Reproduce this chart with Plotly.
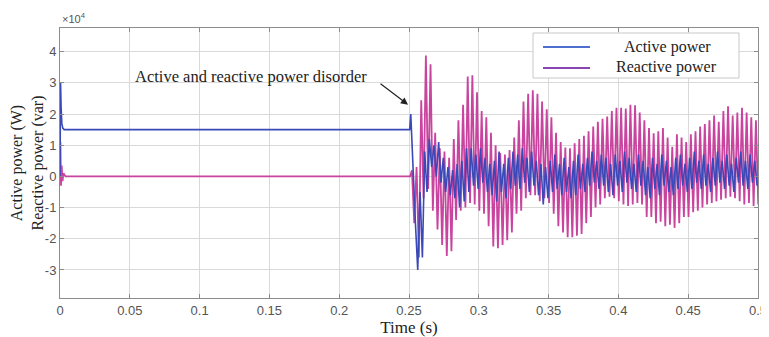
import plotly.graph_objects as go

# values in units of 1e4
# start-up transient (time s, value)
act_start_t = [0.0, 0.0004, 0.0008, 0.0013, 0.002, 0.003, 0.2505]
act_start_v = [0.0, 3.0, 2.2, 1.7, 1.55, 1.5, 1.5]
rea_start_t = [0.0, 0.0003, 0.0007, 0.0012, 0.0018, 0.0025, 0.004, 0.2508]
rea_start_v = [0.0, 1.1, -0.3, 0.35, -0.15, 0.1, 0.0, 0.0]

# disturbed period: one peak and one trough per cycle (75 cycles from t=0.2521)
cycle_start = 0.2521
cycle_len = 0.00333
rea_peak = [0.2, 0.3, 2.44, 3.88, 3.6, 1.4, 0.9, 0.8, 0.6, 1.2,
            1.8, 2.3, 3.2, 3.24, 2.7, 2.1, 1.9, 1.4, 1.0, 0.75,
            0.7, 0.85, 1.25, 1.8, 2.4, 2.65, 2.76, 2.65, 2.4, 2.15,
            1.9, 1.4, 1.1, 0.93, 0.9, 1.06, 1.2, 1.3, 1.45, 1.6,
            1.75, 1.85, 1.92, 2.1, 2.2, 2.2, 2.18, 2.3, 2.28, 2.05,
            1.8, 1.55, 1.38, 1.45, 1.55, 1.25, 0.95, 1.35, 1.25, 1.1,
            1.35, 1.45, 1.6, 1.68, 1.8, 1.95, 1.75, 2.1, 2.25, 1.95,
            2.05, 2.2, 2.05, 1.9, 1.8]
rea_trough = [-1.5, -2.6, -0.7, -0.4, -1.1, -1.7, -2.2, -2.55, -2.4, -1.4,
              -1.1, -1.0, -0.85, -0.9, -1.1, -1.2, -1.6, -2.25, -2.3, -2.2,
              -2.05, -1.8, -1.2, -1.1, -0.7, -0.6, -0.6, -0.8, -0.7, -0.85,
              -1.2, -1.6, -1.8, -1.95, -1.95, -1.9, -1.85, -1.5, -1.3, -1.0,
              -0.9, -0.7, -0.65, -0.7, -0.8, -0.9, -0.95, -0.9, -0.85, -0.9,
              -1.3, -1.3, -1.5, -1.45, -1.6, -1.55, -1.65, -1.5, -1.3, -1.3,
              -1.15, -1.1, -1.0, -0.9, -0.85, -0.8, -0.75, -0.7, -0.65, -0.7,
              -0.8, -0.9, -0.85, -0.95, -0.9]
act_hi = [2.0, -1.5, -0.5, 0.8, 1.2, 1.0, 1.1, 0.6, 0.3, 0.2,
          0.4, 0.5, 0.9, 0.9, 0.7, 0.9, 0.6, 0.4, 0.5, 0.8,
          0.4, 0.6, 0.8, 0.7, 0.9, 0.6, 0.8, 0.5, 0.4, 0.3,
          0.5, 0.7, 0.4, 0.6, 0.3, 0.5, 0.7, 0.4, 0.6, 0.8,
          0.5, 0.7, 0.6, 0.4, 0.7, 0.5, 0.8, 0.6, 0.4, 0.7,
          0.5, 0.3, 0.6, 0.4, 0.7, 0.5, 0.3, 0.6, 0.7, 0.4,
          0.6, 0.8, 0.5, 0.7, 0.4, 0.6, 0.8, 0.5, 0.7, 0.4,
          0.6, 0.8, 0.5, 0.7, 0.5]
act_lo = [0.0, -3.0, -2.6, -0.5, 0.3, 0.0, -0.2, -0.5, -0.6, -0.7,
          -1.0, -0.8, -0.5, -0.3, -0.4, -0.2, -0.5, -0.6, -0.8, -0.5,
          -0.7, -0.4, -0.3, -0.4, -0.2, -0.5, -0.3, -0.6, -0.9, -0.7,
          -0.5, -0.4, -0.6, -0.5, -0.7, -0.6, -0.4, -0.5, -0.3, -0.2,
          -0.4, -0.3, -0.5, -0.6, -0.3, -0.5, -0.2, -0.4, -0.5, -0.3,
          -0.6, -0.7, -0.4, -0.6, -0.3, -0.5, -0.6, -0.4, -0.3, -0.5,
          -0.4, -0.2, -0.4, -0.3, -0.5, -0.3, -0.2, -0.4, -0.3, -0.5,
          -0.2, -0.3, -0.4, -0.2, -0.3]

x_ticks = [0, 0.05, 0.1, 0.15, 0.2, 0.25, 0.3, 0.35, 0.4, 0.45, 0.5]
x_labels = ["0", "0.05", "0.1", "0.15", "0.2", "0.25", "0.3", "0.35", "0.4", "0.45", "0.5"]
y_ticks = [-3, -2, -1, 0, 1, 2, 3, 4]
y_labels = ["-3", "-2", "-1", "0", "1", "2", "3", "4"]
legend_names = ["Active power", "Reactive power"]

# assemble series
rea_t = list(rea_start_t)
rea_v = list(rea_start_v)
act_t = list(act_start_t)
act_v = list(act_start_v)
for k in range(len(rea_peak)):
    t0 = cycle_start + k * cycle_len
    rea_t += [t0, t0 + cycle_len / 2]
    rea_v += [rea_peak[k], rea_trough[k]]
    act_t += [t0 - cycle_len * 0.25, t0 + cycle_len * 0.25]
    act_v += [act_hi[k], act_lo[k]]

PINK = "#c8449f"
BLUE = "#3b48b8"
LEG_BLUE = "#4f6fd0"
LEG_PURPLE = "#8a45b5"

fig = go.Figure()
fig.add_trace(go.Scatter(x=rea_t, y=rea_v, mode="lines", name=legend_names[1],
                         line=dict(color=PINK, width=1.8), showlegend=False))
fig.add_trace(go.Scatter(x=act_t, y=act_v, mode="lines", name=legend_names[0],
                         line=dict(color=BLUE, width=1.6), showlegend=False))

serif = "Liberation Serif"
sans = "Liberation Sans"

# page has an 8px body margin; figure is placed at (8, 8)
OFF = 8
W, H = 769 - OFF, 337 - OFF
L, T = 60 - OFF, 28 - OFF
R = W - (758 - OFF)
B = H - (298 - OFF)
pw, ph = W - L - R, H - T - B


def px(xp):
    return (xp - OFF - L) / pw


def py(yp):
    return (H - B - (yp - OFF)) / ph


fig.update_layout(
    width=W, height=H,
    margin=dict(l=L, r=R, t=T, b=B),
    paper_bgcolor="white", plot_bgcolor="white",
    showlegend=False,
    xaxis=dict(range=[0, 0.5], tickvals=x_ticks, ticktext=x_labels, automargin=False,
               showgrid=True, gridcolor="#d9d9d9", gridwidth=1,
               showline=True, linecolor="#8c8c8c", linewidth=1, mirror="ticks",
               ticks="inside", ticklen=4, tickcolor="#8c8c8c",
               tickfont=dict(family=sans, size=13, color="#555"),
               zeroline=False,
               title=dict(text="Time (s)", font=dict(family=serif, size=17, color="#222"),
                          standoff=0)),
    yaxis=dict(range=[-3.9, 4.76], tickvals=y_ticks, ticktext=y_labels, automargin=False,
               showgrid=True, gridcolor="#d9d9d9", gridwidth=1,
               showline=True, linecolor="#8c8c8c", linewidth=1, mirror="ticks",
               ticks="inside", ticklen=4, tickcolor="#8c8c8c",
               tickfont=dict(family=sans, size=13, color="#555"),
               zeroline=False,
               title=dict(text="Active power (W)<br>Reactive power (var)",
                          font=dict(family=serif, size=16, color="#222"), standoff=2)),
)

# manual legend box
fig.add_shape(type="rect", xref="paper", yref="paper",
              x0=px(533), x1=px(739), y0=py(78), y1=py(33),
              fillcolor="white", line=dict(color="#c8c8c8", width=1), layer="above")
fig.add_shape(type="line", xref="paper", yref="paper",
              x0=px(543), x1=px(590), y0=py(47), y1=py(47),
              line=dict(color=LEG_BLUE, width=2), layer="above")
fig.add_shape(type="line", xref="paper", yref="paper",
              x0=px(543), x1=px(590), y0=py(68), y1=py(68),
              line=dict(color=LEG_PURPLE, width=2), layer="above")
fig.add_annotation(xref="paper", yref="paper", x=px(667), y=py(47), xanchor="center",
                   yanchor="middle", text=legend_names[0], showarrow=False,
                   font=dict(family=serif, size=16, color="#222"))
fig.add_annotation(xref="paper", yref="paper", x=px(666), y=py(67), xanchor="center",
                   yanchor="middle", text=legend_names[1], showarrow=False,
                   font=dict(family=serif, size=16, color="#222"))

fig.add_annotation(xref="paper", yref="paper", x=0.0, y=1.0, xanchor="left", yanchor="bottom",
                   text="×10<sup>4</sup>", showarrow=False, yshift=1,
                   font=dict(family=sans, size=11, color="#555"))
fig.add_annotation(xref="x", yref="y", x=0.052, y=3.2, xanchor="left", yanchor="middle",
                   text="Active and reactive power disorder", showarrow=False,
                   font=dict(family=serif, size=16.5, color="#222"))
fig.add_annotation(xref="x", yref="y", x=0.2493, y=2.3, text="", showarrow=True,
                   ax=-29, ay=-22, arrowhead=2, arrowsize=1.2, arrowwidth=1.2,
                   arrowcolor="#222")

fig.write_html("out.html")
